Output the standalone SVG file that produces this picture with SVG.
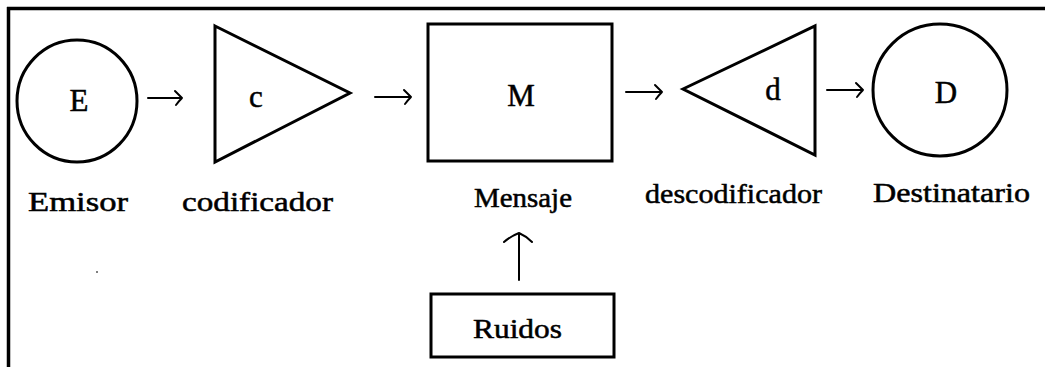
<svg xmlns="http://www.w3.org/2000/svg" width="1045" height="367" viewBox="0 0 1045 367">
<style>
.shape{fill:none;stroke:#000;stroke-width:3}
.conn{fill:none;stroke:#000;stroke-width:2;stroke-linecap:round;stroke-linejoin:round}
.sym{font-family:"Liberation Serif","Times New Roman",serif;font-size:31px;fill:#000;stroke:#000;stroke-width:0.5;text-anchor:middle}
.lbl{font-family:"Liberation Serif","Times New Roman",serif;font-size:27px;fill:#000;stroke:#000;stroke-width:0.5}
</style>
<rect width="1045" height="367" fill="#fff"/>
<g id="frame">
<line x1="7" y1="8.5" x2="1045" y2="8.5" stroke="#000" stroke-width="3.5"/>
<line x1="8.5" y1="7" x2="8.5" y2="367" stroke="#000" stroke-width="3.5"/>
<circle cx="97" cy="272" r="1" fill="#555"/>
</g>
<g id="emisor">
<ellipse class="shape" cx="77" cy="101" rx="60" ry="61" stroke-width="2.5"/>
<text class="sym" x="79" y="111">E</text>
<text class="lbl" x="28" y="211" textLength="100" lengthAdjust="spacingAndGlyphs">Emisor</text>
</g>
<g id="codificador">
<polygon class="shape" points="215,26 350,93 215,162"/>
<text class="sym" x="256" y="107">c</text>
<text class="lbl" x="182" y="211" textLength="151" lengthAdjust="spacingAndGlyphs">codificador</text>
</g>
<g id="mensaje">
<rect class="shape" x="428" y="24" width="184" height="137" stroke-width="4"/>
<text class="sym" x="521" y="106">M</text>
<text class="lbl" x="474" y="207" textLength="98" lengthAdjust="spacingAndGlyphs">Mensaje</text>
</g>
<g id="descodificador">
<polygon class="shape" points="683,89 815,26 815,155"/>
<text class="sym" x="773" y="100">d</text>
<text class="lbl" x="645" y="203" textLength="177" lengthAdjust="spacingAndGlyphs">descodificador</text>
</g>
<g id="destinatario">
<ellipse class="shape" cx="940" cy="90" rx="67" ry="66" stroke-width="2.5"/>
<text class="sym" x="946" y="103">D</text>
<text class="lbl" x="873" y="202" textLength="157" lengthAdjust="spacingAndGlyphs">Destinatario</text>
</g>
<g id="ruidos">
<rect class="shape" x="431" y="294" width="183" height="63" stroke-width="3.5"/>
<text class="lbl" x="473" y="338" font-size="30" textLength="89" lengthAdjust="spacingAndGlyphs">Ruidos</text>
</g>
<g id="connectors">
<path class="conn" d="M148 98 H182 M175 91 Q180 96 182 98 Q179 101 176 105"/>
<path class="conn" d="M375 97 H411 M404 90 Q409 95 411 97 Q408 100 405 104"/>
<path class="conn" d="M626 92 H662 M655 85 Q660 90 662 92 Q659 95 656 99"/>
<path class="conn" d="M827 90 H863 M856 83 Q861 88 863 90 Q860 93 857 97"/>
<path class="conn" d="M519 280 V233 M504 242 Q511 236 519 233 Q526 236 532 242"/>
</g>
</svg>
